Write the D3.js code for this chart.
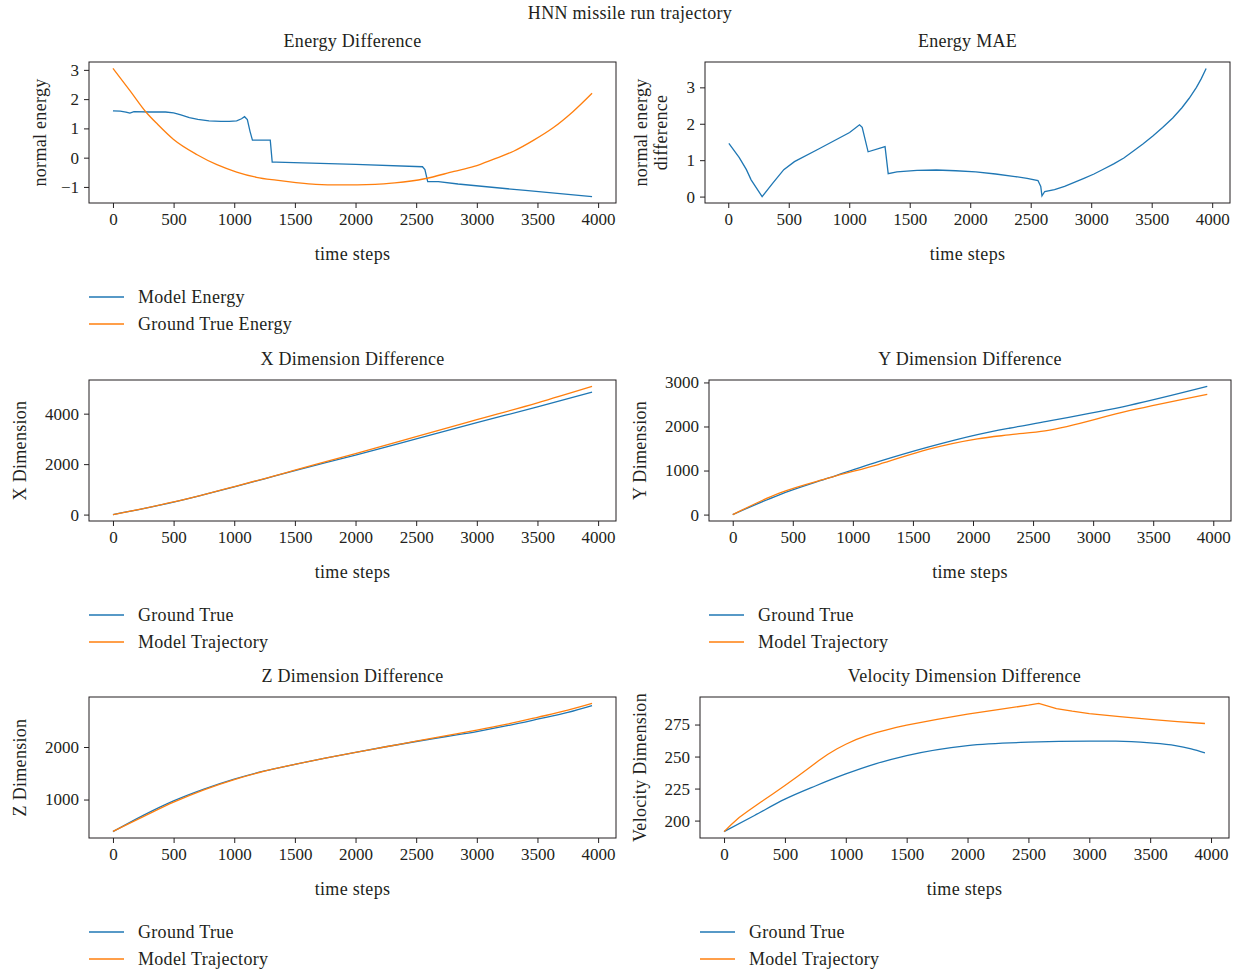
<html>
<script src='https://d3js.org/d3.v7.min.js'></script>
<style>
body {margin:0; background:#fff;}
text {font-family:'Liberation Serif', 'DejaVu Serif', serif; fill:#231f20;}
</style>
<body>
<svg width=1242 height=970></svg>
<script>
// values, [time step, value]
var modelEnergy = [[0,1.6],[60,1.59],[107,1.56],[140,1.52],[173,1.57],[300,1.56],[433,1.56],[500,1.53],[560,1.46],[630,1.37],[700,1.31],[792,1.26],[890,1.24],[960,1.24],[1020,1.26],[1060,1.33],[1085,1.4],[1108,1.3],[1130,0.9],[1150,0.6],[1297,0.6],[1313,-0.15],[1346,-0.15],[2000,-0.23],[2552,-0.31],[2572,-0.41],[2595,-0.82],[2683,-0.82],[2845,-0.9],[3400,-1.12],[3950,-1.33]];
var trueEnergy = [[0,3.05],[140,2.29],[270,1.57],[368,1.14],[500,0.62],[694,0.1],[857,-0.24],[1020,-0.49],[1183,-0.67],[1346,-0.77],[1509,-0.85],[1672,-0.91],[1868,-0.93],[2161,-0.91],[2324,-0.86],[2570,-0.72],[2812,-0.47],[2977,-0.3],[3140,-0.05],[3303,0.22],[3466,0.59],[3629,1.02],[3792,1.57],[3950,2.2]];
var energyMAE = [[5,1.46],[91,1.07],[150,0.74],[189,0.46],[280,0],[368,0.37],[459,0.74],[547,0.96],[743,1.3],[1003,1.76],[1085,1.97],[1107,1.9],[1156,1.23],[1296,1.37],[1322,0.63],[1394,0.68],[1560,0.72],[1720,0.73],[1880,0.71],[2046,0.68],[2210,0.62],[2371,0.55],[2470,0.5],[2560,0.44],[2583,0.28],[2593,0.02],[2616,0.14],[2697,0.19],[2780,0.28],[2860,0.39],[2940,0.5],[3023,0.62],[3100,0.75],[3186,0.9],[3270,1.06],[3349,1.25],[3430,1.45],[3512,1.67],[3590,1.9],[3674,2.16],[3750,2.44],[3810,2.7],[3870,3.0],[3910,3.24],[3950,3.52]];
var xTrue = [[0,0],[250,235],[500,495],[750,790],[1000,1100],[1250,1420],[1500,1740],[2000,2360],[2500,3000],[3000,3640],[3500,4270],[3950,4850]];
var xModel = [[0,0],[250,240],[500,500],[750,795],[1000,1110],[1250,1430],[1500,1760],[2000,2420],[2500,3090],[3000,3760],[3500,4430],[3950,5080]];
var yTrue = [[0,0],[388,450],[800,832],[1212,1200],[1625,1530],[2037,1815],[2300,1960],[2614,2115],[3300,2480],[3950,2910]];
var yModel = [[0,0],[388,488],[800,832],[1212,1137],[1625,1481],[2037,1720],[2300,1810],[2600,1900],[3300,2358],[3950,2730]];
var zTrue = [[0,390],[250,700],[500,975],[750,1200],[1000,1390],[1250,1545],[1500,1670],[1750,1790],[2000,1900],[2250,2005],[2500,2105],[2750,2200],[3000,2295],[3250,2405],[3500,2530],[3750,2660],[3950,2790]];
var zModel = [[0,395],[250,675],[500,950],[750,1185],[1000,1380],[1250,1540],[1500,1670],[1750,1790],[2000,1900],[2250,2005],[2500,2110],[2750,2215],[3000,2320],[3250,2435],[3500,2565],[3750,2700],[3950,2830]];
var vTrue = [[0,191.4],[250,204],[500,216.7],[750,227],[1000,236.4],[1250,244.5],[1500,250.8],[2000,258.6],[2500,261.2],[3000,262],[3218,262],[3500,260.7],[3707,258.6],[3837,256],[3950,252.9]];
var vModel = [[0,191.4],[60,197],[124,202.4],[200,207.6],[300,214.3],[400,220.8],[500,227.4],[600,234.2],[700,241.2],[776,246.7],[850,251.6],[925,255.9],[1000,259.6],[1083,263.2],[1166,266.2],[1250,268.7],[1329,270.7],[1415,272.7],[1500,274.5],[1750,279],[2000,283.1],[2250,286.7],[2500,290.1],[2585,291.5],[2730,287.5],[2860,285.4],[3000,283.6],[3250,281.1],[3500,279],[3725,277.3],[3950,275.8]];

var xTicks = [0,500,1000,1500,2000,2500,3000,3500,4000];
var energyTicks = [-1,0,1,2,3];
var maeTicks = [0,1,2,3];
var xDimTicks = [0,2000,4000];
var yDimTicks = [0,1000,2000,3000];
var zDimTicks = [1000,2000];
var vTicks = [200,225,250,275];

var blue = '#1f77b4', orange = '#ff7f0e';
var lin = d3.curveLinear, smo = d3.curveMonotoneX;

var panels = [
  {title:'Energy Difference', left:89, right:616, top:62, ylab:['normal energy'], ylabX:40,
   series:[[modelEnergy,blue,lin],[trueEnergy,orange,smo]], yt:energyTicks, legend:['Model Energy','Ground True Energy'], lx:89},
  {title:'Energy MAE', left:705, right:1230, top:62, ylab:['normal energy','difference'], ylabX:641,
   series:[[energyMAE,blue,lin]], yt:maeTicks, legend:null},
  {title:'X Dimension Difference', left:89, right:616, top:380, ylab:['X Dimension'], ylabX:20,
   series:[[xTrue,blue,smo],[xModel,orange,smo]], yt:xDimTicks, legend:['Ground True','Model Trajectory'], lx:89},
  {title:'Y Dimension Difference', left:709, right:1231, top:380, ylab:['Y Dimension'], ylabX:640,
   series:[[yTrue,blue,smo],[yModel,orange,smo]], yt:yDimTicks, legend:['Ground True','Model Trajectory'], lx:709},
  {title:'Z Dimension Difference', left:89, right:616, top:697, ylab:['Z Dimension'], ylabX:20,
   series:[[zTrue,blue,smo],[zModel,orange,smo]], yt:zDimTicks, legend:['Ground True','Model Trajectory'], lx:89},
  {title:'Velocity Dimension Difference', left:700, right:1229, top:697, ylab:['Velocity Dimension'], ylabX:640,
   series:[[vTrue,blue,smo],[vModel,orange,lin]], yt:vTicks, legend:['Ground True','Model Trajectory'], lx:700}
];
var ph = 141;

var svg = d3.select('svg');
function label(sel){ return sel.style('font-size','18px').style('letter-spacing','0.3px'); }

label(svg.append('text').attr('x',630).attr('y',13).attr('text-anchor','middle')
  .attr('dominant-baseline','central')).text('HNN missile run trajectory');

function pad(ext){ var r = ext[1]-ext[0]; return [ext[0]-0.05*r, ext[1]+0.05*r]; }
var fmt = function(d){ return d < 0 ? '\u2212' + Math.abs(d) : '' + d; };

panels.forEach(function(p){
  var all = [];
  p.series.forEach(function(s){ all = all.concat(s[0]); });
  var xs = d3.scaleLinear().domain(pad(d3.extent(all, function(d){return d[0];}))).range([p.left, p.right]);
  var ys = d3.scaleLinear().domain(pad(d3.extent(all, function(d){return d[1];}))).range([p.top+ph, p.top]);
  var g = svg.append('g');

  // lines
  p.series.forEach(function(s){
    var line = d3.line().x(function(d){return xs(d[0]);}).y(function(d){return ys(d[1]);}).curve(s[2]);
    g.append('path').datum(s[0]).attr('d', line).attr('fill','none')
      .attr('stroke', s[1]).attr('stroke-width',1.3);
  });

  // axes
  var ax = g.append('g').attr('transform','translate(0,'+(p.top+ph)+')')
    .call(d3.axisBottom(xs).tickValues(xTicks).tickSize(5).tickPadding(5).tickFormat(d3.format('d')));
  var ay = g.append('g').attr('transform','translate('+p.left+',0)')
    .call(d3.axisLeft(ys).tickValues(p.yt).tickSize(5).tickPadding(5).tickFormat(fmt));
  [ax, ay].forEach(function(a){
    a.select('.domain').remove();
    a.selectAll('line').attr('stroke','#231f20');
    a.selectAll('text').style('font-size','17px').attr('fill','#231f20').style('font-family',"'Liberation Serif', serif");
  });

  g.append('rect').attr('x',p.left).attr('y',p.top).attr('width',p.right-p.left).attr('height',ph)
    .attr('fill','none').attr('stroke','#231f20').attr('stroke-width',1);

  var cx = (p.left+p.right)/2;
  label(g.append('text').attr('x',cx).attr('y',p.top-21).attr('text-anchor','middle')
    .attr('dominant-baseline','central')).text(p.title);
  label(g.append('text').attr('x',cx).attr('y',p.top+ph+51).attr('text-anchor','middle')
    .attr('dominant-baseline','central')).text('time steps');

  var cy = p.top + ph/2;
  p.ylab.forEach(function(t,i){
    label(g.append('text').attr('transform','translate('+(p.ylabX+i*20)+','+cy+') rotate(-90)')
      .attr('text-anchor','middle').attr('dominant-baseline','central')).text(t);
  });

  if (p.legend) {
    p.legend.forEach(function(t,i){
      var ly = p.top + ph + 94 + i*27;
      g.append('line').attr('x1',p.lx).attr('x2',p.lx+35).attr('y1',ly).attr('y2',ly)
        .attr('stroke', i==0 ? blue : orange).attr('stroke-width',1.3);
      label(g.append('text').attr('x',p.lx+49).attr('y',ly).attr('dominant-baseline','central')).text(t);
    });
  }
});
</script>
</body>
</html>
